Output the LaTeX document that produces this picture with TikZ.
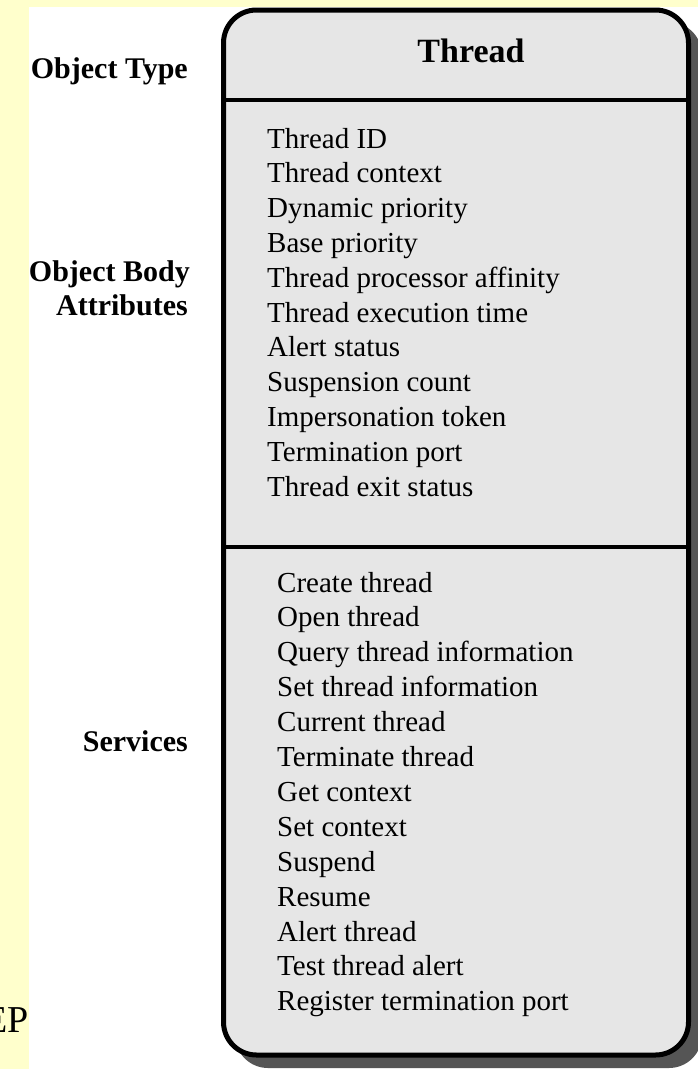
\documentclass[tikz,border=0pt]{standalone}
\usepackage{fontspec}
\setmainfont{Liberation Serif}
\definecolor{bgyellow}{HTML}{FFFFCC}
\definecolor{boxgray}{HTML}{E6E6E6}
\definecolor{shadowgray}{HTML}{555555}
\begin{document}
\begin{tikzpicture}[x=1pt,y=-1pt,
  item/.style={anchor=base west,inner sep=0pt,font=\fontsize{29}{34}\selectfont},
  lbl/.style={anchor=base east,inner sep=0pt,font=\bfseries\fontsize{30}{34}\selectfont},
  divider/.style={line width=3.5pt}]
\useasboundingbox (0,0) rectangle (698,1069);
\fill[bgyellow] (0,0) rectangle (698,1069);
\fill[white] (29,7) rectangle (698,1069);
% shadow
\fill[shadowgray, rounded corners=33pt] (235,22) rectangle (702,1068);
% main box
\node[draw, line width=5pt, fill=boxgray, rounded corners=33pt,
      minimum width=465pt, minimum height=1045pt, inner sep=0pt] (box) at (456,532.5) {};
\draw[divider] (box.west |- 0,100) -- (box.east |- 0,100);
\draw[divider] (box.west |- 0,547) -- (box.east |- 0,547);
% title
\node[anchor=base, inner sep=0pt, font=\bfseries\fontsize{34}{40}\selectfont] (title) at (471,62) {Thread};
% left labels
\node[lbl] (otype) at (188,78) {Object Type};
\node[lbl] (obody) at (190,281) {Object Body};
\node[lbl] (oattr) at (188,315) {Attributes};
\node[lbl] (oserv) at (188,751) {Services};
% EP
\node[anchor=base east, inner sep=0pt, font=\fontsize{38}{40}\selectfont] (ep) at (29,1032) {EP};
% attributes
\foreach \t [count=\i from 0] in {Thread ID,Thread context,Dynamic priority,Base priority,Thread processor affinity,Thread execution time,Alert status,Suspension count,Impersonation token,Termination port,Thread exit status}
  \node[item] (a\i) at (267,148+34.8*\i) {\t};
% services
\foreach \t [count=\i from 0] in {Create thread,Open thread,Query thread information,Set thread information,Current thread,Terminate thread,Get context,Set context,Suspend,Resume,Alert thread,Test thread alert,Register termination port}
  \node[item] (s\i) at (277,592+34.9*\i) {\t};
\end{tikzpicture}
\end{document}
